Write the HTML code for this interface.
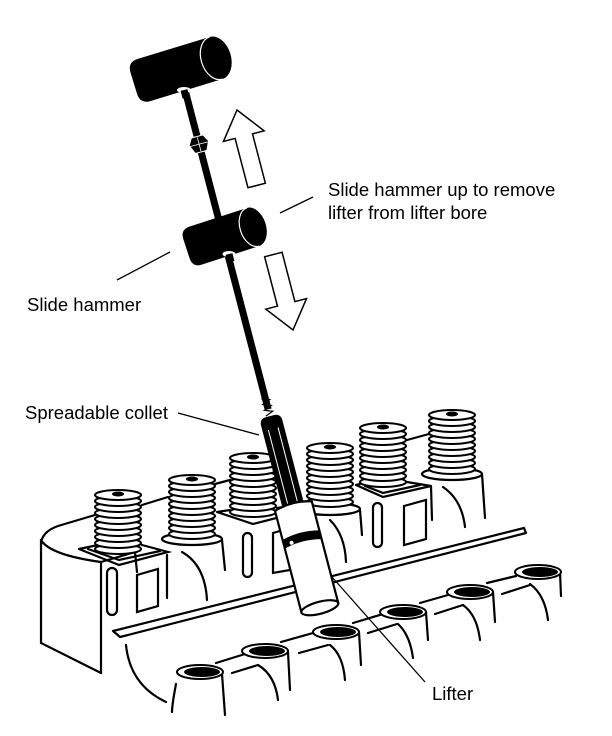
<!DOCTYPE html>
<html><head><meta charset="utf-8"><style>
html,body{margin:0;padding:0;background:#fff}
svg{display:block}
text{font-family:"Liberation Sans",sans-serif;font-size:18.5px;fill:#000}
</style></head><body>
<svg width="612" height="736" viewBox="0 0 612 736" xmlns="http://www.w3.org/2000/svg">
<defs>
<g id="spr">
  <ellipse cx="0" cy="54" rx="23" ry="5" fill="#fff" stroke="#000" stroke-width="2"/>
  <ellipse cx="0" cy="48" rx="23" ry="5" fill="#fff" stroke="#000" stroke-width="2"/>
  <ellipse cx="0" cy="42" rx="23" ry="5" fill="#fff" stroke="#000" stroke-width="2"/>
  <ellipse cx="0" cy="36" rx="23" ry="5" fill="#fff" stroke="#000" stroke-width="2"/>
  <ellipse cx="0" cy="30" rx="23" ry="5" fill="#fff" stroke="#000" stroke-width="2"/>
  <ellipse cx="0" cy="24" rx="23" ry="5" fill="#fff" stroke="#000" stroke-width="2"/>
  <ellipse cx="0" cy="18" rx="23" ry="5" fill="#fff" stroke="#000" stroke-width="2"/>
  <ellipse cx="0" cy="12" rx="23" ry="5" fill="#fff" stroke="#000" stroke-width="2"/>
  <ellipse cx="0" cy="6" rx="23" ry="5" fill="#fff" stroke="#000" stroke-width="2"/>
  <ellipse cx="0" cy="0" rx="23" ry="5" fill="#fff" stroke="#000" stroke-width="2"/>
  <ellipse cx="0" cy="-1" rx="6" ry="2.5" fill="#000"/>
</g>
<g id="bore">
  <ellipse cx="0" cy="0" rx="23" ry="7" fill="#fff" stroke="#000" stroke-width="2"/>
  <ellipse cx="2" cy="0" rx="18" ry="5" fill="#000"/>
</g>
</defs>
<g fill="none" stroke="#000" stroke-width="2.2" stroke-linecap="round">
  <path d="M41,545 Q41,532 58,526 L95,515"/>
  <path d="M142,505 L168,497"/>
  <path d="M215,484 L230,480"/>
  <path d="M407,440 L429,434"/>
  <path d="M41,540 L41,643 L101,673"/>
  <path d="M41,540 Q50,555 101,562 L101,673"/>
  <path d="M101,562 L135,552 L137,572"/>
  <path d="M79,549 L98,545 M142,545 L168,552 L119,565 L79,549"/>
  <path d="M88,549 L119,560 L160,551"/>
  <rect x="107" y="568" width="10" height="47" rx="5"/>
  <path d="M137,575 L158,569 L158,606 L137,612 Z"/>
  <path d="M167,555 L167,598"/>
  <ellipse cx="192" cy="539" rx="30" ry="6" fill="#fff"/>
  <path d="M182,552 Q205,565 207,600"/>
  <path d="M222,540 L225,570"/>
  <path d="M217,512 L230,510 M277,508 L292,506 M217,512 L253,524 L292,514"/>
  <rect x="243" y="533" width="9" height="44" rx="4.5"/>
  <path d="M273,533 L290,528 L290,570 L273,573 Z"/>
  <path d="M292,514 L293,548"/>
  <ellipse cx="330" cy="509" rx="30" ry="6" fill="#fff"/>
  <path d="M330,520 Q345,535 346,562"/>
  <path d="M360,510 L362,535"/>
  <path d="M356,485 L360,484 M407,482 L431,486 L383,497 L356,485"/>
  <path d="M365,486 L383,493 L420,485"/>
  <rect x="373" y="503" width="9" height="44" rx="4.5"/>
  <path d="M404,506 L426,500 L426,539 L404,545 Z"/>
  <path d="M431,486 L432,520"/>
  <ellipse cx="452" cy="474" rx="30" ry="6" fill="#fff"/>
  <path d="M443,487 Q462,500 465,527"/>
  <path d="M482,474 L485,518"/>
  <path d="M113,631 L524,528 L526,533 L120,637 Z" stroke-linejoin="round"/>
  <path d="M126,645 Q130,685 166,702"/>
  <path d="M176,684 Q172,705 172,712"/>
  <path d="M222,674 L225,715"/>
  <path d="M258,665 Q275,675 278,700"/>
  <path d="M288,652 L290,690"/>
  <path d="M330,645 Q343,655 345,680"/>
  <path d="M359,632 L361,665"/>
  <path d="M398,624 Q410,635 413,658"/>
  <path d="M426,612 L428,640"/>
  <path d="M463,605 Q477,615 480,640"/>
  <path d="M493,592 L495,622"/>
  <path d="M530,584 Q545,595 548,620"/>
  <path d="M560,572 L561,596"/>
  <path d="M216,663 L245,654 M281,642 L313,633 M353,623 L383,614 M420,603 L448,595 M487,583 L516,576"/>
  <path d="M232,673 L258,665 M299,653 L328,645 M368,633 L397,624 M435,614 L463,605 M502,594 L530,585"/>
</g>
<use href="#bore" x="200" y="672"/>
<use href="#bore" x="265" y="651"/>
<use href="#bore" x="336" y="632"/>
<use href="#bore" x="403" y="612"/>
<use href="#bore" x="470" y="592"/>
<use href="#bore" x="538" y="572"/>
<use href="#spr" x="118" y="495"/>
<use href="#spr" x="192" y="480"/>
<use href="#spr" x="253" y="458"/>
<use href="#spr" x="330" y="448"/>
<use href="#spr" x="383" y="428"/>
<use href="#spr" x="452" y="415"/>

<g stroke="#000" stroke-width="1.3" fill="none">
  <line x1="280" y1="213" x2="313" y2="197"/>
  <line x1="117" y1="280" x2="170" y2="252"/>
  <line x1="178" y1="413" x2="259" y2="435"/>
  <line x1="332" y1="577" x2="425" y2="682"/>
</g>

<g fill="#fff" stroke="#000" stroke-width="1.5" stroke-linejoin="miter">
  <g transform="translate(237,110) rotate(-14.6)">
    <path d="M0,0 L21,27 L9,27 L9,78 L-9,78 L-9,27 L-21,27 Z"/>
  </g>
  <g transform="translate(293,330) rotate(-14.6)">
    <path d="M0,0 L21,-27 L9,-27 L9,-78 L-9,-78 L-9,-27 L-21,-27 Z"/>
  </g>
</g>

<g transform="translate(185,90) rotate(-14.6)">
  <rect x="-3.5" y="0" width="7" height="330" fill="#000"/>
  <path d="M-6,48 L6,48 L10,55 L6,64 L-6,64 L-10,55 Z" fill="#000" stroke="#fff" stroke-width="1"/>
  <line x1="-9" y1="56" x2="9" y2="56" stroke="#fff" stroke-width="0.8"/>
  <line x1="0" y1="49" x2="0" y2="63" stroke="#fff" stroke-width="0.8"/>
  <path d="M-4,318 L4,321 L-4,324 L4,327 L-4,330 L4,333 L-4,336" stroke="#000" stroke-width="1.2" fill="none"/>
  <path d="M-11,344 Q-11,337 -4,337 L4,337 Q11,337 11,344 L11,434 L-11,434 Z" fill="#000"/>
  <line x1="-5" y1="350" x2="-5" y2="430" stroke="#fff" stroke-width="1"/>
  <line x1="5" y1="350" x2="5" y2="430" stroke="#fff" stroke-width="1"/>
  <path d="M-19,430 Q0,424 19,430 L19,535 L-19,535 Z" fill="#fff" stroke="#000" stroke-width="2.2"/>
  <path d="M-19,460 Q0,455 19,460 L19,469 Q0,464 -19,469 Z" fill="#000"/>
  <circle cx="-11" cy="465" r="2" fill="#fff"/>
  <ellipse cx="0" cy="535" rx="19" ry="6" fill="#fff" stroke="#000" stroke-width="2.2"/>
</g>

<g transform="translate(216,58) rotate(-17)">
  <path d="M-75,-22 L0,-22 L0,22 L-75,22 Q-86,22 -86,11 L-86,-11 Q-86,-22 -75,-22 Z" fill="#000"/>
  <ellipse cx="0" cy="0" rx="15" ry="22" fill="#000"/>
  <path d="M0,-22 A15,22 0 0 0 0,22" fill="none" stroke="#fff" stroke-width="1.2"/>
</g>
<ellipse cx="184" cy="90" rx="7" ry="3" fill="#fff"/>
<rect x="180.5" y="90" width="7" height="8" fill="#000" transform="rotate(-14.6 184 90)"/>
<g transform="translate(253,227) rotate(-18)">
  <path d="M-60,-20 L0,-20 L0,20 L-60,20 Q-70,20 -70,10 L-70,-10 Q-70,-20 -60,-20 Z" fill="#000"/>
  <ellipse cx="0" cy="0" rx="13" ry="20" fill="#000"/>
  <path d="M0,-20 A13,20 0 0 0 0,20" fill="none" stroke="#fff" stroke-width="1.2"/>
</g>
<ellipse cx="229" cy="254" rx="6.5" ry="3" fill="#fff"/>
<rect x="225.5" y="254" width="7" height="8" fill="#000" transform="rotate(-14.6 229 254)"/>

<text x="328" y="196">Slide hammer up to remove</text>
<text x="328" y="219">lifter from lifter bore</text>
<text x="27" y="311">Slide hammer</text>
<text x="25" y="419">Spreadable collet</text>
<text x="432" y="700">Lifter</text>
</svg>
</body></html>
